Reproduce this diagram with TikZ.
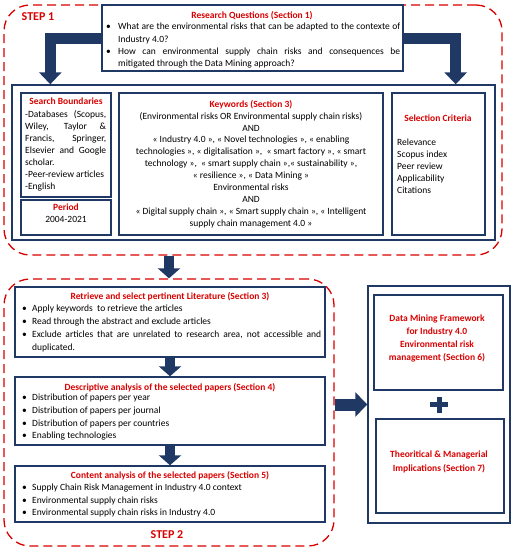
\documentclass[tikz,border=0pt]{standalone}
\usepackage{fontspec}
\setmainfont{Carlito}
\usetikzlibrary{arrows.meta,calc}

\definecolor{navy}{RGB}{31,56,100}
\definecolor{redd}{RGB}{218,0,0}

\newcommand{\bitem}[1]{\makebox[10pt][l]{\textbullet}#1}
\newcommand{\qitem}[1]{\makebox[12pt][l]{\textbullet}#1}

\begin{document}
\begin{tikzpicture}[x=1pt,y=-1pt]

% definitions
\tikzstyle{stepbox} = [rectangle, draw=redd, line width=1.3pt, dash pattern=on 9pt off 5pt, rounded corners=26pt, inner sep=0pt]

\tikzstyle{box} = [rectangle, draw=navy, line width=1.4pt, fill=white, inner sep=0pt]

\tikzstyle{txt} = [inner sep=0pt, font=\fontsize{9.5}{12.3}\selectfont]

\tikzstyle{head} = [inner sep=0pt, text=redd, font=\fontsize{9.5}{12.3}\selectfont\bfseries]

\tikzstyle{fatarrow} = [draw=navy, line width=11pt, line join=miter, -{Triangle[width=22pt,length=12pt]}]

\tikzstyle{downarrow} = [draw=navy, line width=10pt, -{Triangle[width=22pt,length=10pt]}]

\tikzstyle{rightarrow} = [draw=navy, line width=12pt, -{Triangle[width=24pt,length=12pt]}]

\useasboundingbox (0,0) rectangle (512,550);


% step 1
\node (step1) [stepbox, minimum width=498pt, minimum height=250pt] at (253,130) {};
\node (s1label) [head, font=\fontsize{12}{14}\selectfont\bfseries] at (38,17) {STEP 1};

\node (rq) [box, minimum width=301pt, minimum height=66pt] at (252.5,38) {};
\node (rqtitle) [head, anchor=north] at (252,11) {Research Questions (Section 1)};
\node (rqtext) [txt, anchor=north west, align=left] at (106,23) {%
\qitem{\makebox[282pt][s]{What are the environmental risks that can be adapted to the contexte of}}\\
\hspace*{12pt}Industry 4.0?\\
\qitem{\makebox[282pt][s]{How can environmental supply chain risks and consequences be}}\\
\hspace*{12pt}mitigated through the Data Mining approach?};

\node (area) [box, minimum width=483pt, minimum height=155pt] at (253.5,162.5) {};

\draw [fatarrow] (rq.west) -| ([xshift=39pt]area.north west);
\draw [fatarrow] (rq.east) -| ([xshift=-40pt]area.north east);

\node (sb) [box, minimum width=90pt, minimum height=104pt] at (66,145) {};
\node (sbtitle) [head, anchor=north] at (66,98) {Search Boundaries};
\node (sbtext) [txt, anchor=north west, align=left, font=\fontsize{9.5}{12}\selectfont] at (25,110) {%
\makebox[81pt][s]{-Databases (Scopus,}\\
\makebox[81pt][s]{Wiley, Taylor \&}\\
\makebox[81pt][s]{Francis, Springer,}\\
\makebox[81pt][s]{Elsevier and Google}\\
scholar.\\
-Peer-review articles\\
-English};

\node (period) [box, minimum width=90pt, minimum height=35pt] at (66,217.5) {};
\node (periodtext) [txt, anchor=north, align=center, font=\fontsize{9.5}{12}\selectfont] at (66,204) {%
\textcolor{redd}{\bfseries Period}\\
2004-2021};

\node (kw) [box, minimum width=264pt, minimum height=142pt] at (251,164) {};
\node (kwtext) [txt, anchor=north, align=center, font=\fontsize{9.5}{11.9}\selectfont] at (251,100) {%
\textcolor{redd}{\bfseries Keywords (Section 3)}\\
(Environmental risks OR Environmental supply chain risks)\\
AND\\
« Industry 4.0 », « Novel technologies », « enabling\\
technologies », « digitalisation »,~ « smart factory », « smart\\
technology »,~ « smart supply chain »,« sustainability »,\\
« resilience », « Data Mining »\\
Environmental risks\\
AND\\
« Digital supply chain », « Smart supply chain », « Intelligent\\
supply chain management 4.0 »};

\node (sc) [box, minimum width=93pt, minimum height=142pt] at (438.5,164) {};
\node (sctitle) [head, anchor=north] at (438,115) {Selection Criteria};
\node (sctext) [txt, anchor=north west, align=left, font=\fontsize{9.5}{12}\selectfont] at (397,139) {%
Relevance\\
Scopus index\\
Peer review\\
Applicability\\
Citations};


% step 2
\node (step2) [stepbox, minimum width=330pt, minimum height=267pt] at (169,412.5) {};
\node (s2label) [head, font=\fontsize{12}{14}\selectfont\bfseries] at (167,535) {STEP 2};

\draw [downarrow] (step1.south -| step2.north) -- (step2.north);

\node (retr) [box, minimum width=310pt, minimum height=70pt] at (170,322) {};
\node (retrtitle) [head, anchor=north] at (170,292) {Retrieve and select pertinent Literature (Section 3)};
\node (retrtext) [txt, anchor=north west, align=left, font=\fontsize{9.5}{13}\selectfont] at (22,305) {%
\bitem{Apply keywords\ \ to retrieve the articles}\\
\bitem{Read through the abstract and exclude articles}\\
\bitem{\makebox[289pt][s]{Exclude articles that are unrelated to research area, not accessible and}}\\
\hspace*{10pt}duplicated.};

\node (desc) [box, minimum width=310pt, minimum height=68pt] at (170,411) {};
\node (desctitle) [head, anchor=north] at (170,383) {Descriptive analysis of the selected papers (Section 4)};
\node (desctext) [txt, anchor=north west, align=left, font=\fontsize{9.5}{12.7}\selectfont] at (22,394) {%
\bitem{Distribution of papers per year}\\
\bitem{Distribution of papers per journal}\\
\bitem{Distribution of papers per countries}\\
\bitem{Enabling technologies}};

\node (cont) [box, minimum width=310pt, minimum height=56pt] at (170,494) {};
\node (conttitle) [head, anchor=north] at (170,471) {Content analysis of the selected papers (Section 5)};
\node (conttext) [txt, anchor=north west, align=left, font=\fontsize{9.5}{12.5}\selectfont] at (22,484) {%
\bitem{Supply Chain Risk Management in Industry 4.0 context}\\
\bitem{Environmental supply chain risks}\\
\bitem{Environmental supply chain risks in Industry 4.0}};

\draw [downarrow] (retr.south) -- (desc.north);
\draw [downarrow] (desc.south) -- (cont.north);


% framework
\node (outer) [box, minimum width=142pt, minimum height=237pt] at (439,404.5) {};
\node (dm) [box, minimum width=129pt, minimum height=95pt] at (438.5,342.5) {};
\node (dmtext) [head, anchor=north, align=center, font=\fontsize{9.5}{13}\selectfont\bfseries] at (437,315) {%
Data Mining Framework\\
for Industry 4.0\\
Environmental risk\\
management (Section 6)};

\node (theo) [box, minimum width=128pt, minimum height=94pt] at (440,466) {};
\node (theotext) [head, anchor=north, align=center, font=\fontsize{9.5}{14}\selectfont\bfseries] at (439,451) {%
Theoritical \& Managerial\\
Implications (Section 7)};

\coordinate (plus) at ($(dm.south)!0.5!(theo.north)$);
\draw [navy, line width=5.5pt] ([xshift=-9pt]plus) -- ([xshift=9pt]plus);
\draw [navy, line width=5.5pt] ([yshift=-8pt]plus) -- ([yshift=8pt]plus);

\draw [rightarrow] (step2.east |- outer.west) -- (outer.west);

\end{tikzpicture}
\end{document}
